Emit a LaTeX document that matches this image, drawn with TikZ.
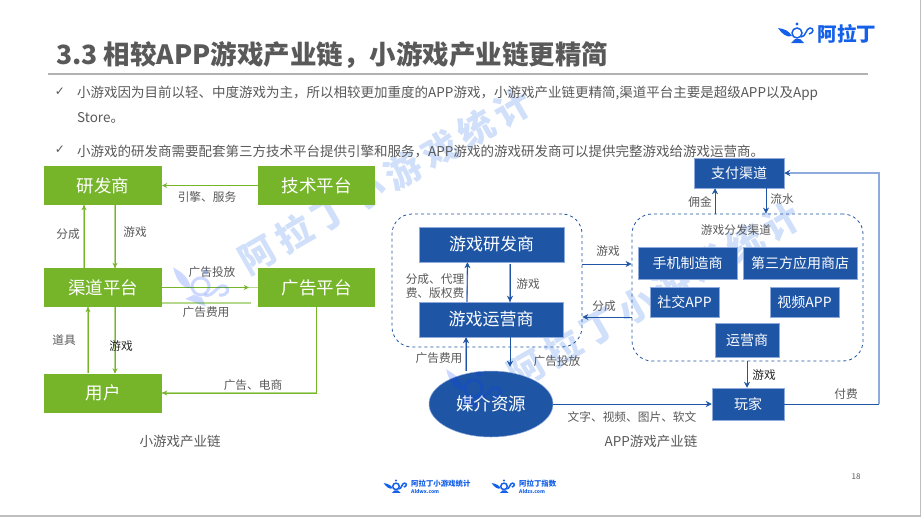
\documentclass[tikz,border=0pt]{standalone}
\usepackage{xcolor}
\usepackage{fontspec}
\setmainfont{Noto Sans CJK SC}
\newfontfamily\dejafont{DejaVu Sans}
\newfontfamily\wmfont[LetterSpace=17]{Noto Sans CJK SC}
\usepackage{tikz}
\usetikzlibrary{arrows.meta, positioning, calc, shapes.geometric}
\definecolor{gboxc}{HTML}{76B52A}
\definecolor{bboxc}{HTML}{1F55A5}
\definecolor{txtc}{HTML}{595959}
\definecolor{lgc}{HTML}{B4D98C}
\definecolor{lbc}{HTML}{8FAADC}
\definecolor{logoc}{HTML}{1560E8}
\definecolor{wmc}{HTML}{D0DFFA}

\begin{document}
\begin{tikzpicture}[
				x=1pt, y=-1pt,
				>=Stealth,
				gbox/.style={fill=gboxc, text=white, minimum width=#1, minimum height=39pt, inner sep=0pt, font=\fontsize{17.5}{17.5}\selectfont},
				bbox/.style={fill=bboxc, draw=lbc, line width=0.5pt, text=white, inner sep=0pt, font=\fontsize{17}{17}\selectfont},
				sbox/.style={bbox, font=\fontsize{14}{14}\selectfont},
				dbox/.style={draw=bboxc, dashed, line width=0.8pt, rounded corners=20pt, inner sep=0pt},
				lbl/.style={text=txtc, inner sep=0pt, align=center, font=\fontsize{11.7}{14}\selectfont},
				captxt/.style={text=txtc, inner sep=0pt, font=\fontsize{13.5}{13.5}\selectfont},
				bul/.style={text=txtc, inner sep=0pt, anchor=west, font=\fontsize{13.5}{13.5}\selectfont},
				chk/.style={text=txtc, inner sep=0pt, font=\dejafont\fontsize{12}{12}\selectfont},
				wmtxt/.style={text=wmc, inner sep=0pt, rotate=30, font=\wmfont\bfseries\fontsize{36}{36}\selectfont},
				gline/.style={->, gboxc, line width=0.8pt, >={Stealth[length=5pt, width=5pt]}},
				lgline/.style={lgc, line width=1.4pt},
				bline/.style={->, bboxc, line width=0.8pt, >={Stealth[length=6pt, width=6pt]}},
				lbline/.style={lbc, line width=1.4pt},
				lampline/.style={line width=1.5pt},
				lamp/.pic={
					\fill (-19,-6) .. controls (-12,-5) and (-8,-3) .. (-5,2) .. controls (-10,4) and (-15,0) .. cycle;
					\draw[lampline] (0,-1) circle (5);
					\fill (0,-10) circle (1.6);
					\draw[lampline] (4,3) .. controls (9,3) and (9,-6) .. (13,-6) .. controls (17,-6) and (17,-1) .. (12,0);
					\fill (-6,9) -- (7,9) -- (3,5) -- (-2,5) -- cycle;
				}
			]
				\useasboundingbox (0,0) rectangle (921,517);
				\fill[white] (0,0) rectangle (921,517);
				\fill[black!25] (0,515) rectangle (921,517);
				\fill[black!25] (920,0) rectangle (921,517);

				\node[wmtxt] (wma) at (385,181) {阿拉丁小游戏统计};
				\node[wmtxt] (wmb) at (654,295) {阿拉丁小游戏统计};

				\node[text=txtc, inner sep=0pt, anchor=west, font=\fontsize{26.5}{27}\bfseries\selectfont] (title) at (56,55) {3.3 相较APP游戏产业链，小游戏产业链更精简};
				\draw[black!30, line width=1.5pt] (48,74) coordinate (rulea) -- (868,74) coordinate (ruleb);

				\node[chk] (chka) at (60,92) {✓};
				\node[bul] (bula) at (77,93) {小游戏因为目前以轻、中度游戏为主，所以相较更加重度的APP游戏，小游戏产业链更精简,渠道平台主要是超级APP以及App};
				\node[bul] (bulb) at (77,118) {Store。};
				\node[chk] (chkb) at (60,150) {✓};
				\node[bul] (bulc) at (77,151) {小游戏的研发商需要配套第三方技术平台提供引擎和服务，APP游戏的游戏研发商可以提供完整游戏给游戏运营商。};

				\node[gbox=118pt] (yfs) at (103,185.5) {研发商};
				\node[gbox=117pt] (jspt) at (316.5,185.5) {技术平台};
				\node[gbox=118pt] (qdpt) at (103,287.5) {渠道平台};
				\node[gbox=117pt] (ggpt) at (316.5,287.5) {广告平台};
				\node[gbox=118pt] (yh) at (103,393) {用户};

				\draw[gline] (jspt.west) -- (yfs.east);
				\draw[lgline] ([xshift=-19pt]qdpt.north) -- ([xshift=-19pt]yfs.south);
				\draw[gline] ([xshift=-19pt]qdpt.north) -- ([xshift=-19pt]yfs.south);
				\draw[lgline] ([xshift=12pt]yfs.south) -- ([xshift=12pt]qdpt.north);
				\draw[gline] ([xshift=12pt]yfs.south) -- ([xshift=12pt]qdpt.north);
				\draw[lgline, line width=0.8pt] (qdpt.east) -- (ggpt.west);
				\draw[gline, shorten >=9pt] (qdpt.east) -- (ggpt.west);
				\draw[lgline, shorten <=7pt] ([yshift=-15.5pt]ggpt.west) -- ([yshift=-15.5pt]qdpt.east);
				\draw[lgline] ([xshift=-15pt]yh.north) -- ([xshift=-15pt]qdpt.south);
				\draw[gline] ([xshift=-15pt]yh.north) -- ([xshift=-15pt]qdpt.south);
				\draw[lgline] ([xshift=12pt]qdpt.south) -- ([xshift=12pt]yh.north);
				\draw[gline] ([xshift=12pt]qdpt.south) -- ([xshift=12pt]yh.north);
				\draw[lgline] (ggpt.south) |- (yh.east);
				\draw[gline] (ggpt.south) |- (yh.east);

				\node[lbl] (lyq) at (207,197) {引擎、服务};
				\node[lbl] (lfca) at (68,234) {分成};
				\node[lbl] (lyxa) at (135,232) {游戏};
				\node[lbl] (lggtf) at (212,272) {广告投放};
				\node[lbl] (lggfy) at (206,312) {广告费用};
				\node[lbl] (ldj) at (64,340) {道具};
				\node[lbl, text=black!85] (lyxb) at (121,346) {游戏};
				\node[lbl] (lggds) at (253,385) {广告、电商};
				\node[captxt] (capa) at (180,441) {小游戏产业链};

				\node[dbox, minimum width=190pt, minimum height=133pt] (kfq) at (487,280.5) {};
				\node[dbox, minimum width=231pt, minimum height=147pt] (ffq) at (747.5,287.5) {};

				\node[bbox, minimum width=145pt, minimum height=35pt] (yxyf) at (491.5,244.5) {游戏研发商};
				\node[bbox, minimum width=144pt, minimum height=35pt] (yxyy) at (491,319.5) {游戏运营商};
				\node[ellipse, fill=bboxc, draw=lbc, line width=0.5pt, text=white, minimum width=124pt, minimum height=66pt, inner sep=0pt, font=\fontsize{17.5}{17.5}\selectfont] (mjzy) at (491,404) {媒介资源};
				\node[sbox, minimum width=90pt, minimum height=30pt] (zfqd) at (739,173) {支付渠道};
				\node[sbox, minimum width=99pt, minimum height=32pt] (sjzz) at (687.5,263) {手机制造商};
				\node[sbox, minimum width=114pt, minimum height=32pt] (dsf) at (800,263) {第三方应用商店};
				\node[sbox, minimum width=69pt, minimum height=30pt] (sj) at (684.5,302) {社交APP};
				\node[sbox, minimum width=69pt, minimum height=30pt] (sp) at (804.5,302) {视频APP};
				\node[sbox, minimum width=64pt, minimum height=34pt] (yys) at (747,340) {运营商};
				\node[sbox, minimum width=72pt, minimum height=32pt] (wj) at (748,404) {玩家};

				\draw[lbline] ([xshift=-24pt]yxyy.north) -- ([xshift=-24pt]yxyf.south);
				\draw[bline] ([xshift=-24pt]yxyy.north) -- ([xshift=-24pt]yxyf.south);
				\draw[lbline, shorten <=2pt] ([xshift=18.5pt]yxyf.south) -- ([xshift=19pt]yxyy.north);
				\draw[bline] ([xshift=18.5pt,yshift=-2pt]yxyf.south) -- ([xshift=19pt]yxyy.north);
				\draw[lbline] ([xshift=-25pt]mjzy.north) -- ([xshift=-25pt]yxyy.south);
				\draw[bline] ([xshift=-25pt]mjzy.north) -- ([xshift=-25pt]yxyy.south);
				\draw[bline] ([xshift=19pt]yxyy.south) -- ([xshift=19pt,yshift=4pt]mjzy.north);
				\draw[bline] ([yshift=16.5pt]kfq.east) -- ([yshift=23.5pt]ffq.west);
				\draw[bline] ([yshift=-29.5pt]ffq.west) -- ([yshift=-36.5pt]kfq.east);
				\draw[bline] (mjzy.east) -- (wj.west);
				\draw[bline] ([xshift=-32.5pt]ffq.north) -- ([xshift=-24pt]zfqd.south);
				\draw[bline] ([xshift=27pt]zfqd.south) -- ([xshift=18.5pt]ffq.north);
				\draw[bline] ([xshift=-0.5pt]ffq.south) -- ([xshift=-1pt]wj.north);
				\coordinate (fyc) at (879,173);
				\draw[bline] (fyc) -- (zfqd.east);
				\draw[lbc, line width=1.2pt, shorten >=6pt] (wj.east -| fyc) -- (fyc) -- (zfqd.east);
				\draw[bboxc, line width=0.8pt] (wj.east) -- (wj.east -| fyc);

				\node[lbl] (lyxc) at (608,251) {游戏};
				\node[lbl] (lfcb) at (604,306) {分成};
				\node[lbl] (lfcc) at (435,286) {分成、代理\\费、版权费};
				\node[lbl] (lyxd) at (528,284) {游戏};
				\node[lbl] (lggfyb) at (439,358) {广告费用};
				\node[lbl] (lggtfb) at (557,361) {广告投放};
				\node[lbl] (lwz) at (632,417) {文字、视频、图片、软文};
				\node[captxt] (capb) at (651,441) {APP游戏产业链};
				\node[lbl] (lyj) at (700,202) {佣金};
				\node[lbl] (lls) at (782,199) {流水};
				\node[lbl] (lfqd) at (736,230) {游戏分发渠道};
				\node[lbl, text=black!85] (lyxe) at (764,375) {游戏};
				\node[lbl] (lff) at (846,394) {付费};

				\pic[logoc] at (797,34) {lamp};
				\node[text=logoc, inner sep=0pt, font=\fontsize{19.5}{19.5}\bfseries\selectfont] (lgname) at (847,34) {阿拉丁};
				\node[text=txtc, inner sep=0pt, font=\fontsize{8}{8}\selectfont] (pgno) at (856,477) {18};

				\pic[logoc, scale=0.65] at (396,487) {lamp};
				\node[text=logoc, inner sep=0pt, anchor=west, font=\fontsize{7.4}{7.4}\bfseries\selectfont] (fta) at (411,484) {阿拉丁小游戏统计};
				\node[text=logoc, inner sep=0pt, anchor=west, font=\fontsize{5}{5}\bfseries\selectfont] (ftb) at (411,492) {Aldwx.com};
				\pic[logoc, scale=0.65] at (504,487) {lamp};
				\node[text=logoc, inner sep=0pt, anchor=west, font=\fontsize{7.4}{7.4}\bfseries\selectfont] (ftc) at (519,484) {阿拉丁指数};
				\node[text=logoc, inner sep=0pt, anchor=west, font=\fontsize{5}{5}\bfseries\selectfont] (ftd) at (519,492) {Aldzs.com};

				\begin{scope}[opacity=0.2, blue!75!cyan, lampline/.style={line width=3pt}]
					\pic[rotate=-20, scale=1.7] at (200,288) {lamp};
					\pic[rotate=-20, scale=1.7] at (473,390) {lamp};
				\end{scope}
			\end{tikzpicture}
\end{document}
